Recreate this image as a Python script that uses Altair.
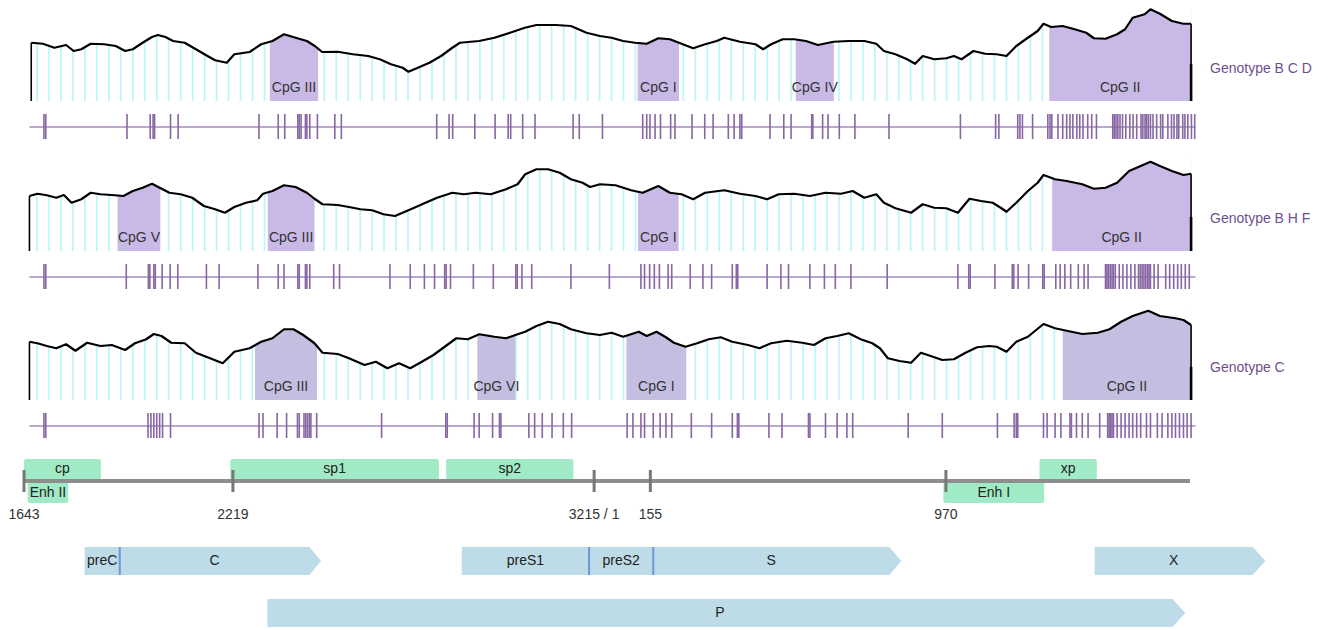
import altair as alt
import pandas as pd

# ---------------- data (positions in bp from nt 1643, GC content in %) ----------------
CURVE1_POS = [20, 52, 84, 116, 137, 158, 184, 221, 253, 279, 300, 327, 353, 369, 390, 411, 443, 474, 506, 527,
              559, 580, 622, 654, 685, 717, 749, 780, 802, 822, 865, 907, 949, 981, 1012, 1044, 1060, 1086, 1118, 1150,
              1181, 1202, 1255, 1297, 1340, 1381, 1413, 1466, 1508, 1551, 1588, 1620, 1652, 1685, 1717, 1749, 1781, 1813,
              1845, 1878, 1910, 1931, 1974, 2017, 2038, 2060, 2092, 2124, 2156, 2189, 2232, 2274, 2317, 2350, 2371, 2403,
              2435, 2457, 2478, 2510, 2543, 2564, 2585, 2618, 2650, 2682, 2709, 2736, 2768, 2795, 2811, 2832, 2864, 2897,
              2929, 2950, 2982, 3014, 3036, 3057, 3090, 3106, 3132, 3165, 3197, 3218]
CURVE1_GC = [53.3, 52.9, 51.3, 52.4, 50.0, 50.7, 52.9, 52.7, 52.0, 50.0, 50.7, 53.3, 55.6, 56.4, 55.6, 54.0, 53.3, 50.7, 48.0, 46.3,
             45.3, 48.7, 49.6, 52.7, 54.0, 56.7, 55.3, 54.0, 52.0, 49.6, 49.7, 48.7, 48.0, 46.7, 44.7, 43.3, 41.7, 43.3, 45.3, 48.0,
             51.3, 53.3, 54.0, 55.3, 57.3, 59.3, 60.4, 60.4, 60.0, 57.3, 56.0, 55.3, 54.0, 53.3, 52.9, 55.1, 54.7, 52.9,
             51.1, 52.7, 54.0, 55.3, 53.7, 52.7, 50.7, 52.7, 54.7, 54.7, 54.0, 52.4, 53.7, 54.0, 54.0, 52.9, 50.0, 48.7,
             46.7, 44.9, 48.0, 46.7, 47.1, 48.0, 46.7, 50.0, 48.9, 48.7, 48.0, 52.0, 55.3, 58.0, 60.9, 59.6, 60.0, 58.7,
             57.3, 55.1, 54.9, 56.7, 58.7, 63.3, 64.7, 66.7, 64.9, 62.0, 60.9, 60.9]

CURVE2_POS = [15, 37, 63, 89, 110, 131, 158, 184, 211, 242, 274, 300, 327, 353, 374, 401, 432, 464, 496, 527,
              554, 580, 612, 643, 659, 685, 717, 749, 780, 801, 823, 865, 896, 928, 960, 991, 1023, 1044, 1076, 1107,
              1139, 1181, 1213, 1245, 1287, 1329, 1361, 1382, 1413, 1445, 1477, 1508, 1540, 1561, 1588, 1631, 1674, 1706,
              1749, 1781, 1813, 1845, 1878, 1931, 1974, 2017, 2049, 2081, 2124, 2167, 2210, 2253, 2285, 2317, 2350, 2371,
              2403, 2446, 2478, 2510, 2543, 2575, 2607, 2639, 2671, 2693, 2709, 2736, 2768, 2795, 2811, 2843, 2875, 2918,
              2950, 2982, 3014, 3047, 3079, 3106, 3132, 3165, 3197, 3218]
CURVE2_GC = [52.0, 52.9, 52.3, 51.3, 52.4, 49.3, 50.7, 53.3, 52.7, 52.4, 52.0, 54.0, 55.3, 56.9, 55.3, 53.3, 52.7, 51.3, 48.0, 46.7,
             45.3, 47.6, 49.3, 50.3, 52.9, 54.0, 56.3, 55.6, 53.3, 50.9, 48.7, 48.4, 47.6, 46.7, 46.3, 44.7, 44.0, 45.3, 47.3, 49.3,
             51.3, 53.3, 52.7, 53.3, 52.7, 54.7, 56.7, 60.7, 62.7, 62.7, 61.3, 58.7, 57.3, 55.6, 56.7, 56.3, 54.3, 53.3,
             56.0, 53.3, 52.7, 50.7, 53.3, 54.3, 52.9, 52.0, 50.7, 52.7, 52.9, 52.0, 53.3, 52.9, 54.0, 51.3, 52.7, 49.3,
             47.1, 45.3, 48.7, 47.3, 47.1, 45.3, 50.9, 50.0, 49.3, 47.3, 45.7, 49.3, 54.0, 57.3, 60.4, 58.7, 58.0, 56.7,
             54.9, 55.3, 57.3, 62.0, 64.0, 65.7, 64.0, 62.0, 60.4, 60.9]

CURVE3_POS = [15, 37, 63, 89, 116, 142, 174, 211, 242, 279, 306, 337, 358, 379, 406, 443, 474, 506, 548, 580,
              622, 654, 685, 717, 743, 770, 801, 823, 865, 896, 939, 970, 1002, 1034, 1065, 1097, 1129, 1160, 1192, 1224,
              1255, 1297, 1329, 1361, 1382, 1413, 1445, 1477, 1508, 1551, 1588, 1620, 1652, 1695, 1717, 1744, 1770, 1792,
              1824, 1856, 1888, 1921, 1953, 1996, 2028, 2060, 2103, 2146, 2178, 2210, 2242, 2274, 2307, 2339, 2360, 2382,
              2414, 2446, 2473, 2500, 2532, 2564, 2596, 2628, 2661, 2682, 2709, 2736, 2768, 2811, 2843, 2875, 2918, 2961,
              2993, 3025, 3057, 3100, 3132, 3175, 3197, 3218]
CURVE3_GC = [53.3, 52.7, 51.6, 50.7, 52.3, 49.7, 52.9, 51.6, 52.0, 50.0, 52.7, 54.3, 56.4, 55.6, 52.9, 52.7, 48.9, 47.1, 44.7, 49.3,
             50.7, 53.3, 54.7, 58.3, 58.3, 56.0, 52.7, 48.9, 48.4, 46.7, 44.0, 45.3, 42.7, 44.7, 42.7, 45.3, 48.0, 51.3, 54.7, 54.3,
             56.3, 55.3, 54.7, 56.3, 57.3, 59.6, 61.3, 60.4, 58.3, 56.7, 56.0, 56.9, 55.3, 57.3, 55.6, 57.3, 55.1, 52.9,
             51.3, 52.7, 54.3, 55.1, 53.3, 52.0, 50.7, 52.7, 53.7, 52.9, 52.0, 54.7, 55.6, 56.7, 54.3, 52.7, 50.7, 46.7,
             45.6, 44.9, 48.9, 47.6, 46.0, 46.3, 48.9, 51.1, 51.6, 51.3, 49.3, 53.3, 55.3, 60.4, 58.7, 57.7, 56.4, 56.9,
             58.3, 61.3, 63.6, 65.7, 63.6, 62.7, 62.0, 60.0]

# end marker (lower, thicker part of the right edge) in GC %
END_MARK = [44.8, 43.6, 43.3]

ISLANDS1 = [("CpG III", 678, 811), ("CpG I", 1692, 1806), ("CpG IV", 2128, 2233), ("CpG II", 2827, 3218)]
ISLANDS2 = [("CpG V", 258, 376), ("CpG III", 672, 801), ("CpG I", 1693, 1805), ("CpG II", 2835, 3218)]
ISLANDS3 = [("CpG III", 637, 808), ("CpG VI", 1250, 1355), ("CpG I", 1661, 1826), ("CpG II", 2864, 3218)]

SITES1 = [55, 60, 284, 348, 356, 360, 404, 425, 648, 701, 719, 755, 759, 764, 776, 780, 788, 809, 857, 875,
          1138, 1172, 1182, 1243, 1299, 1335, 1342, 1375, 1409, 1514, 1531, 1595, 1706, 1717, 1726, 1740, 1755,
          1783, 1795, 1842, 1877, 1900, 1942, 1958, 1974, 1979, 2057, 2095, 2115, 2172, 2175, 2202, 2217, 2248,
          2291, 2385, 2582, 2679, 2688, 2740, 2746, 2753, 2781, 2823, 2829, 2834, 2851, 2864, 2875, 2884, 2892,
          2903, 2911, 2920, 2933, 2944, 2957, 3002, 3006, 3011, 3016, 3022, 3029, 3038, 3049, 3058, 3068, 3080,
          3085, 3091, 3095, 3100, 3106, 3113, 3123, 3134, 3140, 3154, 3164, 3171, 3179, 3184, 3195, 3201, 3209,
          3219, 3228]
SITES2 = [55, 60, 282, 343, 347, 358, 362, 381, 403, 424, 503, 538, 645, 701, 717, 755, 759, 776, 780, 788,
          854, 870, 1009, 1065, 1104, 1132, 1160, 1164, 1176, 1239, 1294, 1356, 1360, 1373, 1400, 1508, 1614,
          1701, 1711, 1725, 1738, 1752, 1776, 1786, 1837, 1872, 1896, 1953, 1964, 1968, 2049, 2087, 2108, 2167,
          2207, 2237, 2280, 2380, 2575, 2605, 2609, 2677, 2725, 2729, 2741, 2770, 2809, 2813, 2845, 2857, 2870,
          2886, 2907, 2923, 2934, 2982, 2986, 2990, 2995, 3000, 3004, 3009, 3020, 3030, 3041, 3052, 3063, 3073,
          3078, 3083, 3088, 3093, 3098, 3102, 3106, 3116, 3127, 3148, 3159, 3170, 3181, 3191, 3202, 3213]
SITES3 = [55, 60, 342, 350, 358, 366, 374, 382, 404, 648, 659, 698, 724, 754, 759, 772, 777, 782, 787, 791,
          807, 986, 1163, 1167, 1241, 1255, 1292, 1311, 1315, 1392, 1408, 1429, 1456, 1487, 1510, 1663, 1679,
          1701, 1711, 1735, 1754, 1770, 1786, 1840, 1896, 1953, 1967, 1971, 2054, 2090, 2163, 2167, 2210, 2242,
          2269, 2285, 2438, 2532, 2684, 2730, 2736, 2740, 2811, 2821, 2843, 2859, 2884, 2888, 2902, 2918, 2934,
          2966, 2988, 2992, 2996, 3000, 3004, 3014, 3025, 3036, 3047, 3057, 3068, 3079, 3095, 3106, 3125, 3138,
          3154, 3165, 3175, 3186, 3197, 3207, 3218]

GENOTYPES = ["Genotype B C D", "Genotype B H F", "Genotype C"]

# sliding-window grid (window start every 33 bp)
WINDOW_STEP = 33
WINDOWS = list(range(36, 3200, WINDOW_STEP))

# genome map
MAP_TICK_POS = [0, 576, 1572, 1727, 2542]
MAP_TICK_LABEL = ["1643", "2219", "3215 / 1", "155", "970"]
ELEMENT_NAME = ["cp", "sp1", "sp2", "xp", "Enh II", "Enh I"]
ELEMENT_START = [0, 569, 1164, 2800, 10, 2535]
ELEMENT_END = [212, 1144, 1515, 2958, 122, 2813]
ELEMENT_SIDE = ["above", "above", "above", "above", "below", "below"]

# genes (open reading frames)
GENE_NAME = ["C", "S", "X", "P"]
GENE_START = [167, 1207, 2952, 671]
GENE_BODY_END = [787, 2386, 3388, 3167]
GENE_TIP = [819, 2419, 3423, 3202]
GENE_LANE = [1, 1, 1, 2]
SEGMENT_NAME = ["preC", "C", "preS1", "preS2", "S", "X", "P"]
SEGMENT_START = [167, 264, 1207, 1558, 1735, 2952, 671]
SEGMENT_END = [264, 787, 1558, 1735, 2386, 3388, 3167]
SEGMENT_LANE = [1, 1, 1, 1, 1, 1, 2]
DIVIDERS = [264, 1558, 1735]

# ---------------- styling ----------------
FONT = "Liberation Sans"
W = 1314
GC_MIN, GC_MAX = 30, 66.8
XS = alt.Scale(domain=[0, 3215], range=[16, 1182])
YS = alt.Scale(domain=[GC_MIN, GC_MAX], range=[92, 0])
ISL_COLORS = ["#c9b9e6", "#c9b9e6", "#c4bee1"]
TICK_COLOR = "#8766a3"
TRACK_COLOR = "#a08bbd"


def genotype_panel(pos, gc, islands, sites, label, isl_color, end_mark, h):
    curve = pd.DataFrame({"pos": pos, "gc": gc})
    curve["top"] = GC_MAX
    isl = pd.DataFrame(islands, columns=["name", "start", "end"])
    isl["mid"] = (isl["start"] + isl["end"]) / 2
    win = pd.DataFrame({"pos": WINDOWS})
    site_df = pd.DataFrame({"pos": sites})
    ends = pd.DataFrame({"pos": [pos[0], pos[-1]], "gc": [gc[0], gc[-1]]})
    endmark = pd.DataFrame({"pos": [pos[-1]], "gc": [end_mark]})
    track = pd.DataFrame({"s": [15], "e": [3230]})
    lab = pd.DataFrame({"t": [label]})

    x = alt.X("pos:Q", scale=XS, axis=None)
    y = alt.Y("gc:Q", scale=YS, axis=None)

    cyan = alt.Chart(win).mark_rule(color="#c0f5f8", strokeWidth=1.8).encode(
        x=x, y=alt.value(0), y2=alt.value(92))
    purple = alt.Chart(isl).mark_rect(color=isl_color).encode(
        x=alt.X("start:Q", scale=XS, axis=None), x2="end:Q", y=alt.value(0), y2=alt.value(92))
    mask = alt.Chart(curve).mark_area(color="white", opacity=1).encode(
        x=x, y=alt.Y("top:Q", scale=YS, axis=None), y2="gc:Q")
    line = alt.Chart(curve).mark_line(color="black", strokeWidth=2.2, strokeJoin="round").encode(x=x, y=y)
    edge = alt.Chart(ends).mark_rule(color="black", strokeWidth=1.6).encode(
        x=x, y=y, y2=alt.value(92))
    edge2 = alt.Chart(endmark).mark_rule(color="black", strokeWidth=2.6).encode(
        x=x, y=y, y2=alt.value(92))
    isl_text = alt.Chart(isl).mark_text(font=FONT, fontSize=14, color="#333333").encode(
        x=alt.X("mid:Q", scale=XS, axis=None), y=alt.value(79), text="name:N")
    geno = alt.Chart(lab).mark_text(font=FONT, fontSize=14, color="#6e4f8e", align="left").encode(
        x=alt.value(1202), y=alt.value(60), text="t:N")
    trk = alt.Chart(track).mark_rule(color=TRACK_COLOR, strokeWidth=1.6).encode(
        x=alt.X("s:Q", scale=XS, axis=None), x2="e:Q", y=alt.value(118))
    st = alt.Chart(site_df).mark_rule(color=TICK_COLOR, strokeWidth=1.6).encode(
        x=x, y=alt.value(105), y2=alt.value(130))
    return alt.layer(cyan, purple, mask, line, edge, edge2, isl_text, geno, trk, st).properties(
        width=W, height=h)


panels = [
    genotype_panel(CURVE1_POS, CURVE1_GC, ISLANDS1, SITES1, GENOTYPES[0], ISL_COLORS[0], END_MARK[0], 150),
    genotype_panel(CURVE2_POS, CURVE2_GC, ISLANDS2, SITES2, GENOTYPES[1], ISL_COLORS[1], END_MARK[1], 149),
    genotype_panel(CURVE3_POS, CURVE3_GC, ISLANDS3, SITES3, GENOTYPES[2], ISL_COLORS[2], END_MARK[2], 150),
]

# ---------------- genome map ----------------
elem = pd.DataFrame({"name": ELEMENT_NAME, "start": ELEMENT_START, "end": ELEMENT_END, "side": ELEMENT_SIDE})
elem["mid"] = (elem["start"] + elem["end"]) / 2
ticks = pd.DataFrame({"pos": MAP_TICK_POS, "label": MAP_TICK_LABEL})
backbone = pd.DataFrame({"s": [0], "e": [3215]})
GREEN = "#a0eac5"
xs_start = alt.X("start:Q", scale=XS, axis=None)

el_above = alt.Chart(elem).transform_filter(alt.datum.side == "above").mark_rect(
    color=GREEN, cornerRadius=2).encode(x=xs_start, x2="end:Q", y=alt.value(1), y2=alt.value(22))
el_below = alt.Chart(elem).transform_filter(alt.datum.side == "below").mark_rect(
    color=GREEN, cornerRadius=2).encode(x=xs_start, x2="end:Q", y=alt.value(24), y2=alt.value(45))
bb = alt.Chart(backbone).mark_rule(color="#8e8e8e", strokeWidth=4).encode(
    x=alt.X("s:Q", scale=XS, axis=None), x2="e:Q", y=alt.value(23))
tk = alt.Chart(ticks).mark_rule(color="#777777", strokeWidth=3).encode(
    x=alt.X("pos:Q", scale=XS, axis=None), y=alt.value(12), y2=alt.value(34))
tk_lab = alt.Chart(ticks).mark_text(font=FONT, fontSize=14, color="#333333").encode(
    x=alt.X("pos:Q", scale=XS, axis=None), y=alt.value(57), text="label:N")
lab_above = alt.Chart(elem).transform_filter(alt.datum.side == "above").mark_text(
    font=FONT, fontSize=14, color="#222222").encode(
    x=alt.X("mid:Q", scale=XS, axis=None), y=alt.value(11), text="name:N")
lab_below = alt.Chart(elem).transform_filter(alt.datum.side == "below").mark_text(
    font=FONT, fontSize=14, color="#222222").encode(
    x=alt.X("mid:Q", scale=XS, axis=None), y=alt.value(35), text="name:N")
genome_map = alt.layer(el_above, el_below, bb, tk, tk_lab, lab_above, lab_below).properties(
    width=W, height=80)

# ---------------- genes ----------------
HALF = 0.27
rows = []
for g, s, b, t, ln in zip(GENE_NAME, GENE_START, GENE_BODY_END, GENE_TIP, GENE_LANE):
    rows.append({"gene": g, "x": s, "top": ln - HALF, "bottom": ln + HALF})
    rows.append({"gene": g, "x": b, "top": ln - HALF, "bottom": ln + HALF})
    rows.append({"gene": g, "x": t, "top": ln, "bottom": ln})
arrows = pd.DataFrame(rows)
segs = pd.DataFrame({"name": SEGMENT_NAME, "start": SEGMENT_START, "end": SEGMENT_END, "lane": SEGMENT_LANE})
segs["mid"] = (segs["start"] + segs["end"]) / 2
divs = pd.DataFrame({"pos": DIVIDERS})
divs["top"] = 1 - HALF
divs["bottom"] = 1 + HALF
GY = alt.Scale(domain=[1, 2], range=[23, 75])

arr = alt.Chart(arrows).mark_area(color="#bddce8").encode(
    x=alt.X("x:Q", scale=XS, axis=None), y=alt.Y("top:Q", scale=GY, axis=None), y2="bottom:Q",
    detail="gene:N")
dv = alt.Chart(divs).mark_rule(color="#6f95dc", strokeWidth=2).encode(
    x=alt.X("pos:Q", scale=XS, axis=None), y=alt.Y("top:Q", scale=GY, axis=None), y2="bottom:Q")
gl = alt.Chart(segs).mark_text(font=FONT, fontSize=14, color="#222222").encode(
    x=alt.X("mid:Q", scale=XS, axis=None), y=alt.Y("lane:Q", scale=GY, axis=None), text="name:N")
genes = alt.layer(arr, dv, gl).properties(width=W, height=92)

chart = alt.vconcat(*panels, genome_map, genes, spacing=0, bounds="flush").resolve_scale(
    x="independent", y="independent").configure_view(stroke=None).properties(padding=0)

chart.save("out.html", embed_options={"renderer": "svg", "actions": False})
